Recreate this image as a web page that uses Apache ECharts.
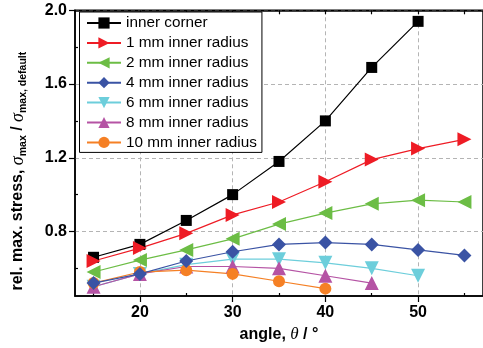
<!DOCTYPE html>
<html>
<head>
<meta charset="utf-8">
<script src="https://cdn.jsdelivr.net/npm/echarts@6/dist/echarts.min.js"></script>
<style>
  html, body { margin: 0; padding: 0; background: #fff; }
  #chart { width: 483px; height: 348px; }
</style>
</head>
<body>
<div id="chart"></div>
<script>
// Angles (degrees) at which the stress ratio was evaluated
const angles = [15, 20, 25, 30, 35, 40, 45, 50, 55];

// Relative maximum stress for each corner geometry (shorter lists end early)
const innerCorner = [0.66, 0.73, 0.86, 1.00, 1.18, 1.40, 1.69, 1.94];
const radius1mm  = [0.64, 0.71, 0.79, 0.89, 0.96, 1.07, 1.19, 1.25, 1.30];
const radius2mm  = [0.58, 0.645, 0.70, 0.76, 0.84, 0.90, 0.95, 0.97, 0.96];
const radius4mm  = [0.52, 0.57, 0.64, 0.69, 0.73, 0.74, 0.73, 0.70, 0.67];
const radius6mm  = [0.50, 0.57, 0.62, 0.65, 0.65, 0.63, 0.60, 0.56];
const radius8mm  = [0.50, 0.57, 0.61, 0.61, 0.60, 0.56, 0.52];
const radius10mm = [0.52, 0.58, 0.59, 0.57, 0.53, 0.49];

const seriesNames = ['inner corner', '1 mm inner radius', '2 mm inner radius',
  '4 mm inner radius', '6 mm inner radius', '8 mm inner radius', '10 mm inner radius'];

// Tick values
const xMajorTicks = [20, 30, 40, 50];
const xMinorTicks = [15, 25, 35, 45, 55];
const xTopTicks = [15, 20, 25, 30, 35, 40, 45, 50, 55];
const yMajorTicks = [0.8, 1.2, 1.6, 2.0];
const yMinorTicks = [0.6, 1.0, 1.4, 1.8];

const FONT = '"Liberation Sans", Arial, sans-serif';

const styles = [
  { color: '#000000', symbol: 'rect', size: 11, rotate: 0 },
  { color: '#ee1c25', symbol: 'triangle', size: 14, rotate: -90 },
  { color: '#6cbd45', symbol: 'triangle', size: 14, rotate: 90 },
  { color: '#3a53a4', symbol: 'diamond', size: 14, rotate: 0 },
  { color: '#6dcedb', symbol: 'triangle', size: 14, rotate: 180 },
  { color: '#b553a4', symbol: 'triangle', size: 14, rotate: 0 },
  { color: '#f58025', symbol: 'circle', size: 12, rotate: 0 }
];
const valueLists = [innerCorner, radius1mm, radius2mm, radius4mm, radius6mm, radius8mm, radius10mm];

const series = valueLists.map((vals, i) => ({
  name: seriesNames[i],
  type: 'line',
  xAxisIndex: 0,
  yAxisIndex: 0,
  data: vals.map((v, k) => [angles[k], v]),
  symbol: styles[i].symbol,
  symbolSize: styles[i].size,
  symbolRotate: styles[i].rotate,
  color: styles[i].color,
  lineStyle: { width: 1.2, color: styles[i].color },
  itemStyle: { color: styles[i].color, opacity: 1 },
  emphasis: { disabled: true },
  animation: false,
  z: i === 3 ? 5 : 2
}));

const axisLineStyle = { show: true, lineStyle: { color: '#000', width: 1.5 } };
const gridLine = { show: true, lineStyle: { color: '#b4b4b4', type: [4, 3], width: 1 } };

const option = {
  animation: false,
  backgroundColor: '#fff',
  grid: {
    left: 72.3, top: 10.3, right: -7, bottom: 52,
    show: true, borderColor: '#000', borderWidth: 1.5, backgroundColor: 'transparent'
  },
  legend: {
    left: 79.5, top: 12,
    orient: 'vertical',
    padding: [3.5, 5, 2.5, 6.5],
    itemWidth: 34, itemHeight: 14, itemGap: 4.9,
    backgroundColor: '#fff',
    borderColor: '#000', borderWidth: 1,
    textStyle: { fontFamily: FONT, fontSize: 15.3, color: '#000', lineHeight: 14 },
    data: seriesNames
  },
  xAxis: [
    {
      type: 'value', min: 13, max: 57, position: 'bottom',
      axisLine: axisLineStyle,
      axisTick: { show: true, inside: false, length: 6, lineStyle: { color: '#000', width: 1.2 }, customValues: xMajorTicks },
      axisLabel: { customValues: xMajorTicks, margin: 9, fontFamily: FONT, fontWeight: 'bold', fontSize: 16, color: '#000' },
      splitLine: gridLine,
      name: '{b|angle, }{s|θ}{b| / °}',
      nameLocation: 'middle', nameGap: 30,
      nameTextStyle: {
        rich: {
          b: { fontFamily: FONT, fontWeight: 'bold', fontSize: 16, color: '#000' },
          s: { fontFamily: '"Liberation Serif", serif', fontStyle: 'italic', fontSize: 17, color: '#000' }
        }
      }
    },
    {
      type: 'value', min: 13, max: 57, position: 'bottom',
      axisLine: { show: false },
      axisTick: { show: true, inside: true, length: 3, lineStyle: { color: '#000', width: 1.2 }, customValues: xMinorTicks },
      axisLabel: { show: false },
      splitLine: { show: false }
    },
    {
      type: 'value', min: 13, max: 57, position: 'top',
      axisLine: axisLineStyle,
      axisTick: { show: true, inside: true, length: 4, lineStyle: { color: '#000', width: 1.2 }, customValues: xTopTicks },
      axisLabel: { show: false },
      splitLine: { show: false }
    }
  ],
  yAxis: [
    {
      type: 'value', min: 0.45, max: 2.0, position: 'left',
      axisLine: axisLineStyle,
      axisTick: { show: true, inside: false, length: 6, lineStyle: { color: '#000', width: 1.2 }, customValues: yMajorTicks },
      axisLabel: {
        customValues: yMajorTicks, margin: 8,
        fontFamily: FONT, fontWeight: 'bold', fontSize: 16, color: '#000',
        formatter: v => v.toFixed(1)
      },
      splitLine: gridLine,
      name: '{b|rel. max. stress, }{s|σ}{sub|max}{b| / }{s|σ}{sub|max, default}',
      nameLocation: 'middle', nameGap: 46, nameRotate: 90,
      nameTextStyle: {
        padding: [0, 36, 0, 0],
        rich: {
          b: { fontFamily: FONT, fontWeight: 'bold', fontSize: 16, color: '#000', lineHeight: 22 },
          s: { fontFamily: '"Liberation Serif", serif', fontStyle: 'italic', fontSize: 18, color: '#000', lineHeight: 22 },
          sub: { fontFamily: FONT, fontWeight: 'bold', fontSize: 10.5, color: '#000', lineHeight: 10, verticalAlign: 'bottom', padding: [10, 0, 0, 0] }
        }
      }
    },
    {
      type: 'value', min: 0.45, max: 2.0, position: 'left',
      axisLine: { show: false },
      axisTick: { show: true, inside: true, length: 3, lineStyle: { color: '#000', width: 1.2 }, customValues: yMinorTicks },
      axisLabel: { show: false },
      splitLine: { show: false }
    }
  ],
  series: series
};

const chart = echarts.init(document.getElementById('chart'), null, { renderer: 'canvas' });
chart.setOption(option);
</script>
</body>
</html>
